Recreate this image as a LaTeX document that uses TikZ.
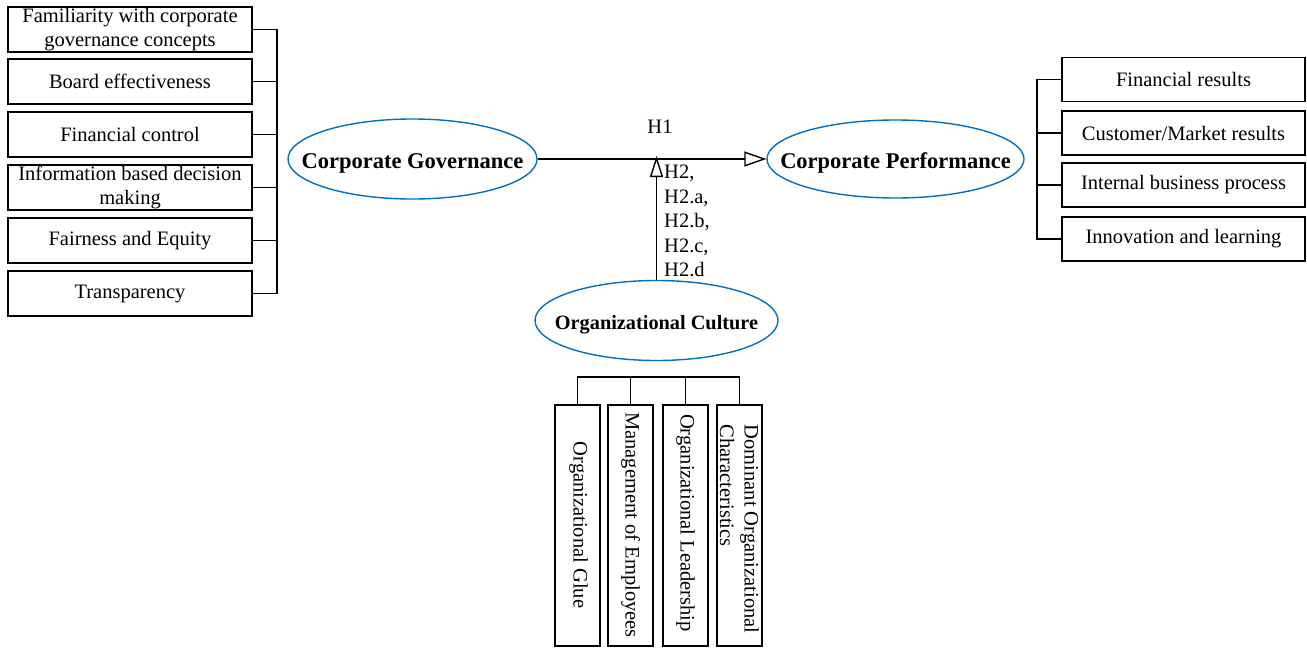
\documentclass[tikz,border=0pt]{standalone}
\usepackage{fontspec}
\setmainfont{Liberation Serif}
\usetikzlibrary{shapes.geometric,arrows.meta}
\definecolor{ovalblue}{RGB}{0,112,192}
\newcommand{\ovallabel}[1]{\makebox[0pt]{\raisebox{-4pt}[\height][\depth]{#1}}}
\begin{document}
\begin{tikzpicture}[x=1pt,y=-1pt,
  txt/.style={font=\fontsize{20.5}{24.5}\selectfont},
  itembox/.style={draw,line width=1.2pt,rectangle,inner sep=0pt,align=center,txt},
  leftbox/.style={itembox,minimum width=244,minimum height=45},
  rightbox/.style={itembox,minimum width=243,minimum height=44},
  tallbox/.style={draw,line width=1.2pt,rectangle,inner sep=0pt,minimum width=45,minimum height=241},
  vtext/.style={rotate=-90,inner sep=0pt,align=left,txt},
  construct/.style={draw=ovalblue,line width=1.4pt,ellipse,inner sep=0pt,font=\fontsize{22.5}{26}\selectfont\bfseries},
  link/.style={line width=1.4pt},
  hyp/.style={line width=1.4pt,-{Triangle[open,length=22,width=15,line width=1.4pt]}}
]
\useasboundingbox (0,0) rectangle (1307,648);

% governance dimensions
\node[leftbox] (l1) at (130,29.5) {Familiarity with corporate\\governance concepts};
\node[leftbox] (l2) at (130,81.5) {Board effectiveness};
\node[leftbox] (l3) at (130,134.5) {Financial control};
\node[leftbox] (l4) at (130,187.5) {Information based decision\\making};
\node[leftbox] (l5) at (130,240.5) {Fairness and Equity};
\node[leftbox] (l6) at (130,293.5) {Transparency};
\coordinate (lbusT) at (277,29.5);
\coordinate (lbusB) at (277,293.5);
\draw[link] (l1.east) -- (lbusT) -- (lbusB) -- (l6.east);
\foreach \n in {l2,l3,l4,l5} \draw[link] (\n.east) -- (\n.east -| lbusT);

% performance dimensions
\node[rightbox] (r1) at (1183.5,79.5) {Financial results};
\node[rightbox] (r2) at (1183.5,133) {Customer/Market results};
\node[rightbox] (r3) at (1183.5,185) {Internal business process};
\node[rightbox] (r4) at (1183.5,239) {Innovation and learning};
\coordinate (rbusT) at (1037,79.5);
\coordinate (rbusB) at (1037,239);
\draw[link] (r1.west) -- (rbusT) -- (rbusB) -- (r4.west);
\foreach \n in {r2,r3} \draw[link] (\n.west) -- (\n.west -| rbusT);

% constructs (the oval size is fixed; the label is set in a zero-width box)
\node[construct,minimum width=249,minimum height=80] (cg) at (412.5,159) {\ovallabel{Corporate Governance}};
\node[construct,minimum width=257,minimum height=78] (cp) at (895.5,159) {\ovallabel{Corporate Performance}};
\node[construct,minimum width=243,minimum height=80,font=\fontsize{20.3}{24}\selectfont\bfseries] (oc) at (656.5,320.5) {\ovallabel{Organizational Culture}};

% hypotheses
\draw[hyp] (cg.east) -- (cp.west);
\coordinate (h2tip) at (656.5,156);
\draw[hyp,-{Triangle[open,length=21,width=13,line width=1.4pt]}] (oc.north) -- (h2tip);
\node[txt,inner sep=0pt] (h1) at (660,127) {H1};
\node[txt,inner sep=0pt,align=left,anchor=north west] (h2) at (664,165) {H2,\\H2.a,\\H2.b,\\H2.c,\\H2.d};

% culture dimensions
\node[tallbox] (b1) at (577.5,525.5) {};
\node[tallbox] (b2) at (630.5,525.5) {};
\node[tallbox] (b3) at (685.5,525.5) {};
\node[tallbox] (b4) at (739.5,525.5) {};
\node[vtext] (t1) at (578.5,525) {Organizational Glue};
\node[vtext] (t2) at (630.5,525) {Management of Employees};
\node[vtext] (t3) at (685.5,523) {Organizational Leadership};
\node[vtext] (t4) at (739.5,529) {Dominant Organizational\\Characteristics};
\coordinate (bbusL) at (577.5,377);
\coordinate (bbusR) at (739.5,377);
\draw[link] (b1.north) -- (bbusL) -- (bbusR) -- (b4.north);
\foreach \n in {b2,b3} \draw[link] (\n.north) -- (\n.north |- bbusL);
\end{tikzpicture}
\end{document}
